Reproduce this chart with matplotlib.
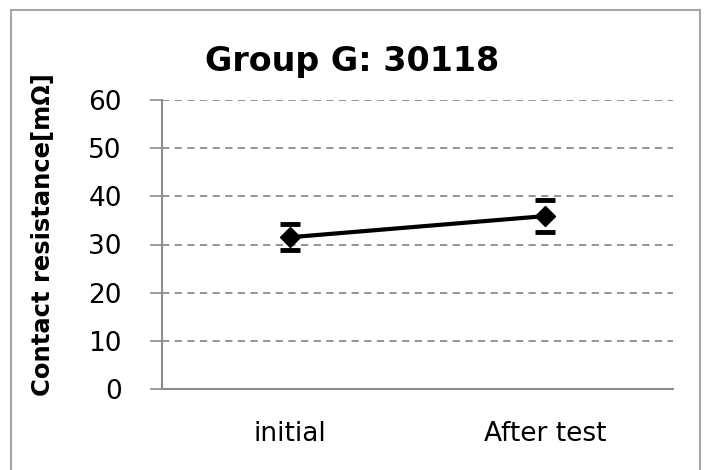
import matplotlib
matplotlib.use("Agg")
import matplotlib.pyplot as plt
from matplotlib.patches import Rectangle

categories = ["initial", "After test"]
means = [31.5, 35.9]
errors = [2.7, 3.3]
yticks = [0, 10, 20, 30, 40, 50, 60]

plt.rcParams['font.family'] = ['DejaVu Sans']

fig = plt.figure(figsize=(7.05, 4.70), dpi=100)
fig.patches.append(Rectangle((11/705, -0.05), (700-11)/705, 1.05 - 10/470,
                             transform=fig.transFigure, fill=False,
                             edgecolor='#A6A6A6', linewidth=1.5))

ax = fig.add_axes([162/705, 1-389/470, (673-162)/705, (389-100)/470])
x = [0.5 + i for i in range(len(categories))]
ax.plot(x, means, color='black', linewidth=3, marker='D', markersize=10, zorder=3)
ax.errorbar(x, means, yerr=errors, fmt='none', ecolor='black', elinewidth=0,
            capsize=7, capthick=3.5, zorder=3)

ax.set_xlim(0, 2)
ax.set_ylim(0, 60)
ax.set_yticks(yticks)
ax.set_xticks(x)
ax.set_xticklabels(categories, fontsize=19)
ax.tick_params(axis='x', length=0, pad=23)
ax.tick_params(axis='y', length=9, color='#8C8C8C', width=1.2, labelsize=19, pad=20)
for s in ['top', 'right']:
    ax.spines[s].set_visible(False)
for s in ['left', 'bottom']:
    ax.spines[s].set_color('#8C8C8C')
    ax.spines[s].set_linewidth(1.5)
ax.yaxis.grid(True, linestyle=(0, (4, 3)), color='#8C8C8C', linewidth=1.3)
ax.set_axisbelow(True)

ax.set_ylabel("Contact resistance[mΩ]", fontsize=17.5, fontweight='bold')
ax.yaxis.set_label_coords((55-162)/511, (389-235)/289)
fig.text(352/705, 1-62/470, "Group G: 30118", fontsize=24, fontweight='bold',
         ha='center', va='center')

fig.savefig("out.png", dpi=100)
